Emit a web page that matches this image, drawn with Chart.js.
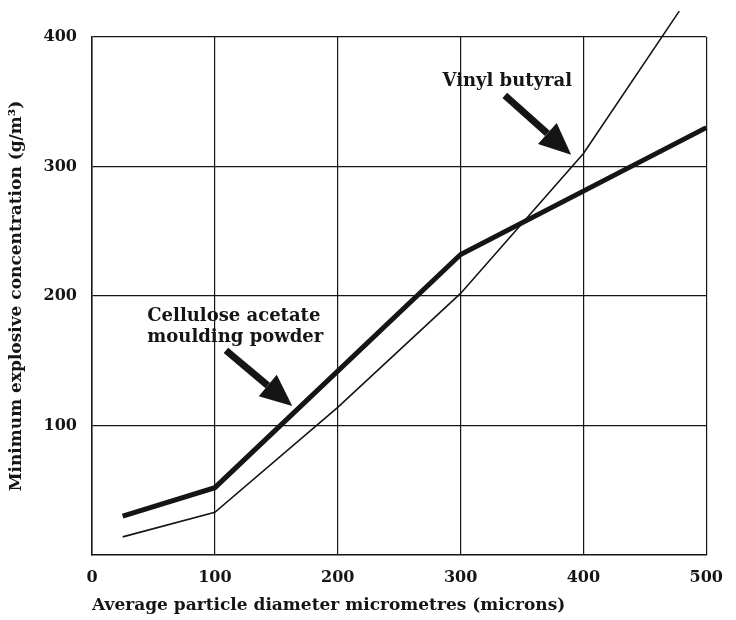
<!DOCTYPE html>
<html>
<head>
<meta charset="utf-8">
<script src="https://cdn.jsdelivr.net/npm/chart.js@4.4.1/dist/chart.umd.min.js"></script>
<style>
  html, body { margin: 0; padding: 0; background: #fff; }
  #wrap { width: 736px; height: 620px; position: relative; }
</style>
</head>
<body>
<div id="wrap"><canvas id="chart"></canvas></div>
<script>
// Valores (diâmetro em microns, concentração em g/m3)
const celluloseX = [25, 100, 300, 500];
const celluloseY = [30, 52, 232, 330];

const vinylX = [25, 100, 200, 300, 400, 478];
const vinylY = [14, 33, 114, 202, 310, 420];

const xTicks = [0, 100, 200, 300, 400, 500];
const yTicks = [100, 200, 300, 400];

// Anotações (em coordenadas de dados)
const labels = [
    { lines: ['Vinyl butyral'], x: 338, y: 366, align: 'center' },
    { lines: ['Cellulose acetate', 'moulding powder'], x: 45, y: 184, align: 'left' }
];
const arrows = [
    { from: [336, 355], to: [390, 309] },
    { from: [109, 158], to: [163, 115] }
];

const FONT = '"DejaVu Serif", serif';
const INK = '#151515';

const annotationPlugin = {
    id: 'annotations',
    afterDatasetsDraw(chart) {
        const { ctx, scales: { x, y } } = chart;
        ctx.save();
        ctx.fillStyle = INK;
        ctx.strokeStyle = INK;
        ctx.font = 'bold 18px ' + FONT;
        ctx.textBaseline = 'middle';
        labels.forEach(l => {
            ctx.textAlign = l.align;
            l.lines.forEach((t, i) => {
                ctx.fillText(t, x.getPixelForValue(l.x), y.getPixelForValue(l.y) + i * 21);
            });
        });
        arrows.forEach(a => {
            const x0 = x.getPixelForValue(a.from[0]), y0 = y.getPixelForValue(a.from[1]);
            const x1 = x.getPixelForValue(a.to[0]), y1 = y.getPixelForValue(a.to[1]);
            const ang = Math.atan2(y1 - y0, x1 - x0);
            const headLen = 32, headW = 14;
            const bx = x1 - headLen * Math.cos(ang), by = y1 - headLen * Math.sin(ang);
            ctx.lineWidth = 7;
            ctx.lineCap = 'butt';
            ctx.beginPath();
            ctx.moveTo(x0, y0);
            ctx.lineTo(bx, by);
            ctx.stroke();
            ctx.beginPath();
            ctx.moveTo(x1, y1);
            ctx.lineTo(bx + headW * Math.sin(ang), by - headW * Math.cos(ang));
            ctx.lineTo(bx - headW * Math.sin(ang), by + headW * Math.cos(ang));
            ctx.closePath();
            ctx.fill();
        });
        ctx.restore();
    }
};

new Chart(document.getElementById('chart'), {
    type: 'line',
    data: {
        datasets: [
            {
                label: 'Cellulose acetate moulding powder',
                data: celluloseX.map((v, i) => ({ x: v, y: celluloseY[i] })),
                borderColor: INK,
                borderWidth: 5,
                pointRadius: 0,
                tension: 0
            },
            {
                label: 'Vinyl butyral',
                data: vinylX.map((v, i) => ({ x: v, y: vinylY[i] })),
                borderColor: INK,
                borderWidth: 1.6,
                pointRadius: 0,
                tension: 0
            }
        ]
    },
    options: {
        responsive: true,
        maintainAspectRatio: false,
        animation: false,
        clip: false,
        layout: {
            padding: { top: 37, right: 26, left: 0, bottom: 0 }
        },
        scales: {
            x: {
                type: 'linear',
                min: 0,
                max: 500,
                afterBuildTicks: s => { s.ticks = xTicks.map(v => ({ value: v })); },
                afterFit: s => { s.height = 65; },
                grid: { color: INK, lineWidth: 1.2, drawTicks: false },
                border: { color: INK, width: 1.5 },
                ticks: {
                    color: INK,
                    padding: 13,
                    font: { family: FONT, size: 16, weight: 'bold' }
                },
                title: {
                    display: true,
                    text: 'Average particle diameter micrometres (microns)',
                    align: 'start',
                    color: INK,
                    padding: { top: 8 },
                    font: { family: FONT, size: 17, weight: 'bold' }
                }
            },
            y: {
                type: 'linear',
                min: 0,
                max: 400,
                afterBuildTicks: s => { s.ticks = yTicks.map(v => ({ value: v })); },
                afterFit: s => { s.width = 92; },
                grid: { color: INK, lineWidth: 1.2, drawTicks: false },
                border: { color: INK, width: 1.5 },
                ticks: {
                    color: INK,
                    padding: 15,
                    font: { family: FONT, size: 16, weight: 'bold' }
                },
                title: {
                    display: true,
                    text: 'Minimum explosive concentration (g/m³)',
                    color: INK,
                    padding: { top: 6, bottom: 0 },
                    font: { family: FONT, size: 17, weight: 'bold' }
                }
            }
        },
        plugins: {
            legend: { display: false },
            tooltip: { enabled: false }
        }
    },
    plugins: [annotationPlugin]
});
</script>
</body>
</html>
